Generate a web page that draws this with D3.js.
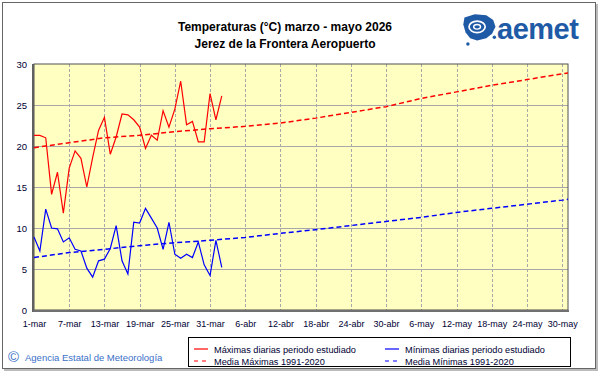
<!DOCTYPE html>
<html><head><meta charset="utf-8">
<script src="https://cdn.jsdelivr.net/npm/d3@7"></script>
<style>body{margin:0;background:#fff}svg{display:block}</style>
</head><body>
<svg id="c" width="601" height="374"></svg>
<script>
// ---- data ----
const maxDays = d3.range(0, 33);
const maxValues = [21.3, 21.3, 21.0, 14.1, 16.8, 11.8, 17.3, 19.4, 18.5, 15.0, 18.6, 21.9, 23.5, 19.0, 21.1, 23.9, 23.8, 23.2, 22.3, 19.7, 21.3, 20.7, 24.3, 22.3, 24.5, 27.9, 22.6, 23.0, 20.5, 20.5, 26.4, 23.2, 26.1];
const minValues = [8.9, 7.2, 12.3, 10.0, 9.9, 8.3, 8.8, 7.4, 7.2, 5.1, 4.0, 6.0, 6.2, 7.5, 10.3, 6.0, 4.4, 10.7, 10.6, 12.4, 11.2, 10.0, 7.4, 10.7, 6.8, 6.3, 6.8, 6.4, 8.3, 5.5, 4.2, 8.5, 5.2];
const normDays = [0, 6, 12, 18, 24, 30, 36, 42, 48, 54, 60, 66, 72, 78, 84, 90, 91];
const normMax = [19.8, 20.4, 21.0, 21.3, 21.75, 22.1, 22.4, 22.8, 23.4, 24.1, 24.8, 25.8, 26.6, 27.4, 28.1, 28.8, 28.9];
const normMin = [6.4, 7.0, 7.4, 7.85, 8.2, 8.5, 8.85, 9.35, 9.8, 10.3, 10.8, 11.3, 11.9, 12.4, 12.9, 13.4, 13.5];
const tickDays = [0, 6, 12, 18, 24, 30, 36, 42, 48, 54, 60, 66, 72, 78, 84, 90];
const tickLabels = ["1-mar","7-mar","13-mar","19-mar","25-mar","31-mar","6-abr","12-abr","18-abr","24-abr","30-abr","6-may","12-may","18-may","24-may","30-may"];
const yTicks = [0, 5, 10, 15, 20, 25, 30];
const titleLines = ["Temperaturas (°C) marzo - mayo 2026", "Jerez de la Frontera Aeropuerto"];
const legendItems = [
  {label: "Máximas diarias periodo estudiado", color: "#ff0000", dash: null},
  {label: "Mínimas diarias periodo estudiado", color: "#0000ff", dash: null},
  {label: "Media Máximas 1991-2020", color: "#ff0000", dash: "4,4"},
  {label: "Media Mínimas 1991-2020", color: "#0000ff", dash: "4,4"}
];

const svg = d3.select("#c");
const F = "Arial, 'Liberation Sans', sans-serif";

// frame
svg.append("rect").attr("x",2.5).attr("y",2.5).attr("width",593).attr("height",366)
  .attr("fill","#fff").attr("stroke","#666").attr("stroke-width",1);
svg.append("line").attr("x1",597).attr("x2",597).attr("y1",4).attr("y2",370).attr("stroke","#bbb").attr("stroke-width",2);
svg.append("line").attr("x1",4).attr("x2",598).attr("y1",370).attr("y2",370).attr("stroke","#bbb").attr("stroke-width",2);

const x = d3.scaleLinear().domain([0, 91]).range([34, 568]);
const y = d3.scaleLinear().domain([0, 30]).range([310, 64]);

// plot bg
svg.append("rect").attr("x",x(0)).attr("y",y(30)).attr("width",x(91)-x(0)).attr("height",y(0)-y(30))
  .attr("fill","#ffffc2");

// grid
svg.append("g").selectAll("line").data(yTicks.filter(v=>v>0 && v<30)).join("line")
  .attr("x1",x(0)).attr("x2",x(91)).attr("y1",d=>y(d)+0.5).attr("y2",d=>y(d)+0.5)
  .attr("stroke","#a8a8a8").attr("stroke-width",1);
svg.append("g").selectAll("line").data(tickDays.filter(d=>d>0)).join("line")
  .attr("x1",d=>Math.round(x(d))+0.5).attr("x2",d=>Math.round(x(d))+0.5).attr("y1",y(30)).attr("y2",y(0))
  .attr("stroke","#a8a8a8").attr("stroke-width",1).attr("stroke-dasharray","3,2");

// axes
const yAxis = d3.axisLeft(y).tickValues(yTicks).tickSize(0).tickPadding(7);
const gy = svg.append("g").attr("transform",`translate(${x(0)},0)`).call(yAxis);
gy.select(".domain").remove();
gy.selectAll("text").attr("font-family",F).attr("font-size",9.5).attr("fill","#000033");
const xAxis = d3.axisBottom(x).tickValues(tickDays).tickFormat((d,i)=>tickLabels[i]).tickSize(0).tickPadding(11);
const gx = svg.append("g").attr("transform",`translate(0,${y(0)})`).call(xAxis);
gx.select(".domain").remove();
gx.selectAll("text").attr("font-family",F).attr("font-size",9).attr("fill","#000033");

// plot border
svg.append("rect").attr("x",x(0)).attr("y",y(30)).attr("width",x(91)-x(0)).attr("height",y(0)-y(30))
  .attr("fill","none").attr("stroke","#505050").attr("stroke-width",1);
svg.append("line").attr("x1",x(0)-1).attr("x2",x(0)-1).attr("y1",y(30)).attr("y2",y(0)+2).attr("stroke","#606060").attr("stroke-width",2);
svg.append("line").attr("x1",x(0)-1).attr("x2",x(91)+1).attr("y1",y(0)+1).attr("y2",y(0)+1).attr("stroke","#707070").attr("stroke-width",2);

// lines
const line = d3.line().x(d=>x(d[0])).y(d=>y(d[1]));
svg.append("path").datum(normDays.map((d,i)=>[d,normMax[i]])).attr("d",line)
  .attr("fill","none").attr("stroke","#ff0000").attr("stroke-width",1.5).attr("stroke-dasharray","5,3");
svg.append("path").datum(normDays.map((d,i)=>[d,normMin[i]])).attr("d",line)
  .attr("fill","none").attr("stroke","#0000ff").attr("stroke-width",1.5).attr("stroke-dasharray","5,3");
svg.append("path").datum(maxDays.map((d,i)=>[d,maxValues[i]])).attr("d",line)
  .attr("fill","none").attr("stroke","#ff0000").attr("stroke-width",1.2);
svg.append("path").datum(maxDays.map((d,i)=>[d,minValues[i]])).attr("d",line)
  .attr("fill","none").attr("stroke","#0000ff").attr("stroke-width",1.2);

// title
svg.append("g").selectAll("text").data(titleLines).join("text")
  .attr("x",285).attr("y",(d,i)=>31+i*17).attr("text-anchor","middle")
  .attr("font-family",F).attr("font-weight","bold").attr("font-size",12).attr("fill","#000")
  .text(d=>d);

// logo
const lg = svg.append("g").attr("transform","translate(461,13) scale(1.15)");
lg.append("path").attr("d","M3,4 L12,1 L22,2 L28,6 L30,12 L27,18 L22,22 L14,24 L8,22 L4,17 L2,10 Z").attr("fill","#1f5aa6");
lg.append("ellipse").attr("cx",14).attr("cy",12).attr("rx",7).attr("ry",5).attr("fill","none").attr("stroke","#fff").attr("stroke-width",1.5);
lg.append("ellipse").attr("cx",14).attr("cy",12).attr("rx",3).attr("ry",2).attr("fill","none").attr("stroke","#fff").attr("stroke-width",1.2);
lg.append("circle").attr("cx",6).attr("cy",27).attr("r",1.5).attr("fill","#1f5aa6");
lg.append("circle").attr("cx",29).attr("cy",21).attr("r",1.5).attr("fill","#1f5aa6");
svg.append("text").attr("x",497).attr("y",39).attr("font-family",F).attr("font-weight","bold")
  .attr("font-size",29).attr("fill","#1f5aa6").attr("letter-spacing",-0.5).text("aemet");

// legend
svg.append("rect").attr("x",188.5).attr("y",337.5).attr("width",382).attr("height",29)
  .attr("fill","#fff").attr("stroke","#000").attr("stroke-width",1);
const lgi = svg.append("g").selectAll("g").data(legendItems).join("g")
  .attr("transform",(d,i)=>`translate(${i%2===0?194:385},${i<2?349:361})`);
lgi.append("line").attr("x1",0).attr("x2",14).attr("y1",0).attr("y2",0)
  .attr("stroke",d=>d.color).attr("stroke-width",1.2).attr("stroke-dasharray",d=>d.dash);
lgi.append("text").attr("x",20).attr("y",4).attr("font-family",F).attr("font-size",9.2).attr("fill","#000033").text(d=>d.label);

// footer
svg.append("text").attr("x",8).attr("y",362).attr("font-family",F).attr("font-size",15).attr("fill","#3a6fc8").text("©");
svg.append("text").attr("x",25).attr("y",361).attr("font-family",F).attr("font-size",9.5).attr("fill","#3a6fc8").text("Agencia Estatal de Meteorología");
</script>
</body></html>
